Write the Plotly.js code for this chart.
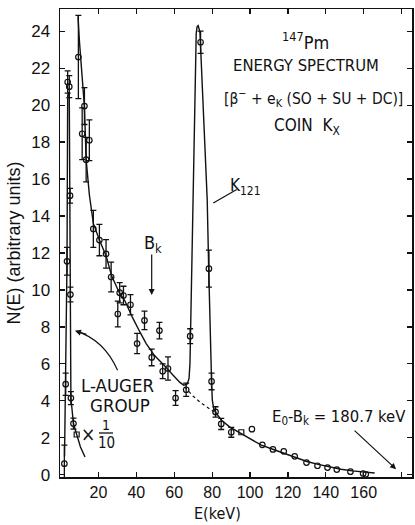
<!DOCTYPE html>
<html><head><meta charset="utf-8">
<script src="https://cdn.plot.ly/plotly-3.0.1.min.js"></script>
<style>html,body{margin:0;padding:0;background:#fff}#chart{width:415px;height:525px}</style>
</head><body><div id="chart"></div>
<script>
// ---- data ----
const augerE   = [2.0, 2.7, 3.4, 3.75, 4.6, 5.0, 5.2, 5.45, 6.8];
const augerN   = [0.6, 4.9, 11.55, 21.25, 21.0, 15.1, 9.75, 4.15, 2.77];
const augerErr = [1.0, 0.6, 0.75, 0.6, 0.6, 0.4, 0.4, 0.35, 0.3];

const betaE   = [9.4, 11.4, 12.6, 13.5, 15.2, 17.3, 20.5, 24.0, 26.7, 30.2, 31.2, 33.2, 36.9, 40.4, 44.3, 48.1, 52.2, 53.9, 56.7, 60.7, 66.3, 68.4, 73.9, 78.3, 79.7, 81.8, 84.8, 90.1];
const betaN   = [22.6, 18.45, 19.95, 17.05, 18.1, 13.3, 12.7, 11.95, 10.7, 8.7, 9.85, 9.7, 9.2, 7.1, 8.35, 6.35, 7.8, 5.6, 5.75, 4.15, 4.6, 7.5, 23.4, 11.15, 5.05, 3.4, 2.75, 2.3];
const betaErr = [2.25, 1.4, 1.0, 1.2, 1.1, 1.0, 0.85, 0.77, 0.8, 0.7, 0.55, 0.5, 0.55, 0.55, 0.5, 0.45, 0.45, 0.4, 0.63, 0.4, 0.36, 0.4, 0.6, 1.0, 0.45, 0.28, 0.3, 0.27];

const tailE = [101.0, 106.5, 112.1, 117.8, 123.6, 129.8, 135.6, 140.9, 145.8, 153.0, 159.7, 161.1];
const tailN = [2.47, 1.62, 1.37, 1.27, 1.0, 0.66, 0.49, 0.39, 0.28, 0.17, 0.07, 0.03];

const squareE = [8.5, 95.4];
const squareN = [2.18, 2.3];

// drawn curves
const fitE = [9.2, 10.0, 12.6, 13.5, 15.2, 17.3, 20.5, 24, 27, 31, 34, 38, 42, 45.2, 49.6, 54, 59.3, 63, 65, 66.8, 67.8, 68.3, 68.6, 69.8, 70.8, 71.6, 72.1, 72.6, 73.2, 73.6, 75.5, 77.4, 78.2, 79.2, 79.7, 80.1, 80.8, 82.2, 85, 89.2, 95, 100, 106, 112, 118, 124.5, 130, 136, 142, 148, 154, 159.6, 165.8];
const fitN = [24.8, 23.4, 19.9, 17.05, 15.15, 13.6, 12.7, 11.85, 10.75, 9.85, 9.4, 8.5, 7.7, 7.1, 6.45, 6.0, 5.4, 5.0, 4.85, 4.9, 5.2, 6.0, 7.6, 14.9, 19.5, 23.9, 24.25, 24.3, 24.1, 23.9, 19.4, 14.9, 11.1, 6.4, 5.07, 4.04, 3.6, 3.32, 2.95, 2.59, 2.25, 1.95, 1.6, 1.38, 1.15, 0.93, 0.72, 0.56, 0.42, 0.3, 0.21, 0.15, 0.1];
const underE = [65.5, 70, 74, 78, 82.2];
const underN = [4.75, 4.25, 3.9, 3.6, 3.32];
const augerFitE = [2.1, 2.7, 3.4, 3.75, 4.2, 4.6, 5.0, 5.2, 5.45, 6.8, 8.5, 10.5, 12.9];
const augerFitN = [1.0, 4.9, 11.55, 20.5, 20.7, 20.5, 15.1, 9.75, 4.15, 2.77, 2.18, 1.5, 0.96];

const xTicks = [20, 40, 60, 80, 100, 120, 140, 160, 180];
const yTicks = [0, 2, 4, 6, 8, 10, 12, 14, 16, 18, 20, 22, 24];

// ---- drawing ----
const NARROW = 'DejaVu Sans Condensed, Liberation Sans Narrow, Arial Narrow, sans-serif';
const SANS = 'Liberation Sans, Arial, sans-serif';
const ink = '#111';
const circ = {symbol: 'circle-open', size: 5.5, color: ink, line: {width: 1.2, color: ink}};
const errStyle = a => ({type: 'data', array: a, visible: true, color: ink, thickness: 1.3, width: 3});

const traces = [
  {x: fitE, y: fitN, mode: 'lines', line: {color: ink, width: 1.4}, hoverinfo: 'skip'},
  {x: underE, y: underN, mode: 'lines', line: {color: ink, width: 1.2, dash: '3px,3px'}, hoverinfo: 'skip'},
  {x: augerFitE, y: augerFitN, mode: 'lines', line: {color: ink, width: 1.4}, hoverinfo: 'skip'},
  {x: augerE, y: augerN, mode: 'markers', marker: circ, error_y: errStyle(augerErr), cliponaxis: false},
  {x: betaE, y: betaN, mode: 'markers', marker: circ, error_y: errStyle(betaErr), cliponaxis: false},
  {x: tailE, y: tailN, mode: 'markers', marker: circ, cliponaxis: false},
  {x: squareE, y: squareN, mode: 'markers', marker: {symbol: 'square-open', size: 5, color: ink, line: {width: 1.2, color: ink}}, cliponaxis: false}
];

const L = 60, T = 9, W = 352, H = 468;
const PX = p => (p - L) / W;
const PY = p => (T + H - p) / H;
function txt(text, x, y, size, family, extra) {
  return Object.assign({text: text, xref: 'paper', yref: 'paper', x: PX(x), y: PY(y),
    xanchor: 'center', yanchor: 'middle', showarrow: false, borderpad: 0,
    font: {size: size, family: family || NARROW, color: ink}}, extra || {});
}
function arrow(x, y, ax, ay, head) {
  return {text: '', x: x, y: y, xref: 'x', yref: 'y', ax: ax, ay: ay, showarrow: true,
    arrowhead: head, arrowsize: 1, arrowwidth: 1.2, arrowcolor: ink, standoff: 0, startstandoff: 0};
}

const annotations = [
  txt('<sup>147</sup>Pm', 305, 41, 18),
  txt('ENERGY SPECTRUM', 306, 65, 16.5),
  txt('[\u03b2<sup>\u2212</sup> + e<sub>K</sub> (SO + SU + DC)]', 313, 99, 15.5),
  txt('COIN  K<sub>X</sub>', 307, 126, 17),
  txt('K<sub>121</sub>', 245, 186, 17),
  txt('B<sub>k</sub>', 153, 244, 18),
  txt('L-AUGER', 118, 385, 18.5),
  txt('GROUP', 120, 405, 18.5),
  txt('\u00d7', 88, 434, 19),
  txt('1', 106, 425, 14),
  txt('10', 106, 443, 15),
  txt('E<sub>0</sub>-B<sub>k</sub> = 180.7 keV', 339, 417, 16.5),
  txt('E(keV)', 217, 513, 16),
  arrow(48.1, 9.73, 0, -42, 2),
  arrow(80.6, 14.7, 25, -14.5, 0),
  arrow(7.6, 7.79, 13, 4, 2),
  arrow(177.1, 0.3, -43, -40, 2)
];

const shapes = [
  {type: 'path', xref: 'x', yref: 'y', path: 'M 30.1,5.66 Q 22.7,7.32 8.2,7.77', line: {color: ink, width: 1.2}},
  {type: 'line', xref: 'paper', yref: 'paper', x0: PX(99), x1: PX(113), y0: PY(433), y1: PY(433), line: {color: ink, width: 1.3}}
];

const axisBase = {showline: true, linecolor: ink, linewidth: 1.5, mirror: 'ticks', ticks: 'inside',
  ticklen: 5, tickwidth: 1.2, tickcolor: ink, showgrid: false, zeroline: false};

const layout = {
  width: 415, height: 525,
  margin: {l: L, r: 415 - L - W, t: T, b: 525 - T - H},
  paper_bgcolor: '#fff', plot_bgcolor: '#fff', showlegend: false,
  xaxis: Object.assign({}, axisBase, {range: [-0.3, 185.5], tickvals: xTicks, ticktext: xTicks.map(String),
    tickfont: {size: 16, family: SANS, color: ink}}),
  yaxis: Object.assign({}, axisBase, {range: [-0.12, 25.2], tickvals: yTicks, ticktext: yTicks.map(String),
    tickfont: {size: 17, family: SANS, color: ink}, ticklabelstandoff: 5,
    title: {text: 'N(E) (arbitrary units)', font: {size: 18, family: SANS, color: ink}, standoff: 6}}),
  annotations: annotations, shapes: shapes
};

Plotly.newPlot('chart', traces, layout, {displayModeBar: false, staticPlot: true});
</script></body></html>
